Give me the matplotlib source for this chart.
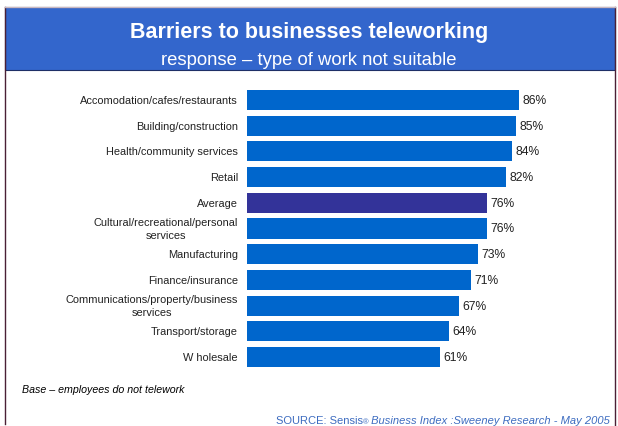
import matplotlib
matplotlib.use("Agg")
import matplotlib.pyplot as plt
from matplotlib.patches import Rectangle
from matplotlib.lines import Line2D
from matplotlib.offsetbox import TextArea, HPacker, AnchoredOffsetbox

plt.rcParams["font.family"] = ["Liberation Sans", "DejaVu Sans"]

# survey response by industry, % saying type of work not suitable
industries = [
    "Accomodation/cafes/restaurants",
    "Building/construction",
    "Health/community services",
    "Retail",
    "Average",
    "Cultural/recreational/personal\nservices",
    "Manufacturing",
    "Finance/insurance",
    "Communications/property/business\nservices",
    "Transport/storage",
    "W holesale",
]
pct = [86, 85, 84, 82, 76, 76, 73, 71, 67, 64, 61]
highlight = "Average"

BAR = "#0066CC"
AVG = "#333399"
HEADER = "#3366CC"
FRAME = "#4a2035"

W, H = 618, 427
fig = plt.figure(figsize=(W / 100, H / 100), dpi=100)


def fx(px):
    return px / W


def fy(py):
    return 1 - py / H


# slide frame and header band
fig.add_artist(Rectangle((fx(5), fy(71)), fx(610), 63 / H, transform=fig.transFigure,
                         facecolor=HEADER, edgecolor="#1f2f66", lw=0.8))
fig.add_artist(Line2D([fx(5), fx(5)], [fy(8), fy(425)], transform=fig.transFigure,
                      color=FRAME, lw=1.0))
fig.add_artist(Line2D([fx(615), fx(615)], [fy(8), fy(427)], transform=fig.transFigure,
                      color=FRAME, lw=1.0))
fig.add_artist(Line2D([fx(5), fx(615)], [fy(8), fy(8)], transform=fig.transFigure,
                      color="#c9b8c0", lw=1.0))

fig.text(0.5, fy(32.5), "Barriers to businesses teleworking", color="white",
         fontsize=15.5, fontweight="bold", ha="center", va="center")
fig.text(0.5, fy(60.5), "response \u2013 type of work not suitable", color="white",
         fontsize=13.3, ha="center", va="center")

ax = fig.add_axes([fx(247), (H - 370.85) / H, 316 / W, 282.7 / H])
y = list(range(len(industries)))
colors = [AVG if n == highlight else BAR for n in industries]
ax.barh(y, pct, height=0.78, color=colors)
ax.set_xlim(0, 100)
ax.set_ylim(len(industries) - 0.5, -0.5)
ax.set_yticks(y)
ax.set_yticklabels(industries, fontsize=7.9, color="#222222",
                   multialignment="center", va="center", linespacing=1.4)
ax.tick_params(axis="y", length=0, pad=6.5)
ax.set_xticks([])
for sp in ax.spines.values():
    sp.set_visible(False)

for yi, v in zip(y, pct):
    ax.annotate(f"{v}%", (v, yi), xytext=(2.5, 0), textcoords="offset points",
                ha="left", va="center", fontsize=8.7, color="#222222")

fig.text(fx(22), fy(390), "Base \u2013 employees do not telework", fontsize=7.7,
         style="italic", ha="left", va="center", color="black")

# source line: plain prefix, italic remainder
src_col = "#3d6cc0"
parts = HPacker(children=[
    TextArea("SOURCE: Sensis", textprops=dict(fontsize=8, color=src_col)),
    TextArea("\u00ae", textprops=dict(fontsize=5.5, color=src_col)),
    TextArea(" Business Index :Sweeney Research - May 2005",
             textprops=dict(fontsize=8, color=src_col, style="italic")),
], align="baseline", pad=0, sep=0)
box = AnchoredOffsetbox(loc="center right", child=parts, pad=0, borderpad=0,
                        frameon=False, bbox_to_anchor=(fx(610), fy(421)),
                        bbox_transform=fig.transFigure)
fig.add_artist(box)

fig.savefig("out.png", dpi=100, facecolor="white")
